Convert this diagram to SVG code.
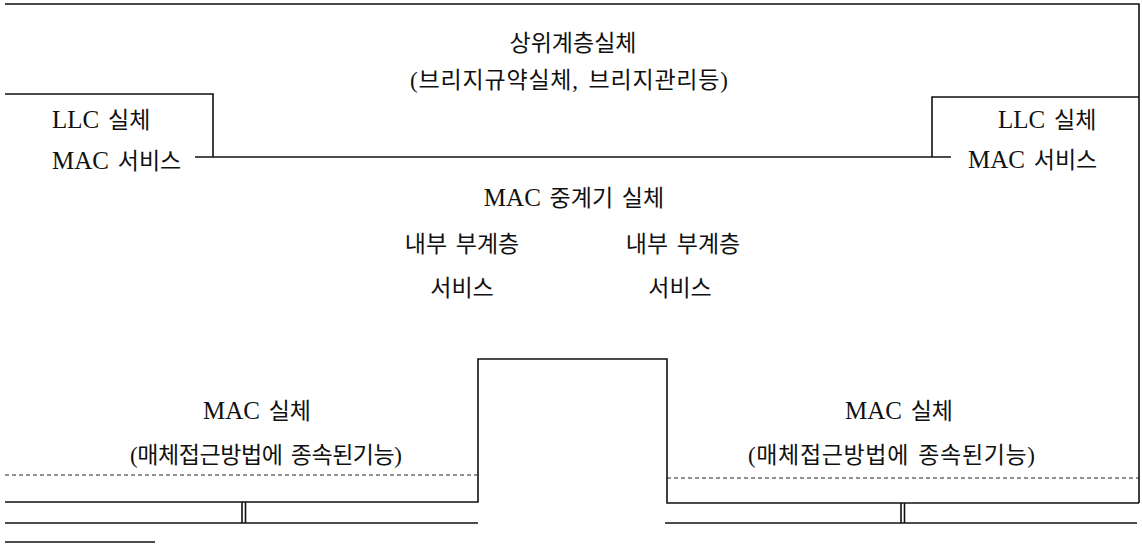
<svg xmlns="http://www.w3.org/2000/svg" width="1142" height="545" viewBox="0 0 1142 545">
<style>
.ln{fill:none;stroke:#111;stroke-width:1.6}
.dash{fill:none;stroke:#222;stroke-width:1;stroke-dasharray:4 3}
.t{font-family:"Liberation Serif","Noto Sans CJK KR",serif;font-size:23px;fill:#111;word-spacing:3px}
.l{font-size:25px}
.c{text-anchor:middle}
</style>
<rect width="1142" height="545" fill="#fff"/>
<g id="frame">
<path class="ln" d="M5,4 H1139 V503"/>
<path class="ln" d="M5,94 H213 V157"/>
<path class="ln" d="M195,157 H951"/>
<path class="ln" d="M932,157 V97 H1139"/>
<path class="ln" d="M5,502 H478 V359 H667 V503 H1139"/>
<path class="dash" d="M5,475 H478"/>
<path class="dash" d="M667,478 H1139"/>
<path class="ln" d="M5,523 H478"/>
<path class="ln" d="M665,523 H1137"/>
<path class="ln" d="M5,542 H155"/>
</g>
<g id="connectors">
<path class="ln" d="M242,502 V523 M245.5,502 V523"/>
<path class="ln" d="M901,503 V523 M904.5,503 V523"/>
</g>
<g id="upper-entity">
<text class="t c" x="573" y="51">상위계층실체</text>
<text class="t c" x="569" y="88" textLength="318">(브리지규약실체, 브리지관리등)</text>
</g>
<g id="llc-left">
<text class="t" x="52" y="128"><tspan class="l">LLC</tspan> 실체</text>
<text class="t" x="52" y="169"><tspan class="l">MAC</tspan> 서비스</text>
</g>
<g id="llc-right">
<text class="t" x="998" y="128"><tspan class="l">LLC</tspan> 실체</text>
<text class="t" x="968" y="168"><tspan class="l">MAC</tspan> 서비스</text>
</g>
<g id="mac-relay">
<text class="t c" x="574" y="206"><tspan class="l">MAC</tspan> 중계기 실체</text>
<text class="t c" x="462" y="252">내부 부계층</text>
<text class="t c" x="683" y="252">내부 부계층</text>
<text class="t c" x="462" y="296">서비스</text>
<text class="t c" x="680" y="296">서비스</text>
</g>
<g id="mac-left">
<text class="t c" x="257" y="419"><tspan class="l">MAC</tspan> 실체</text>
<text class="t" x="130" y="463" textLength="272">(매체접근방법에 종속된기능)</text>
</g>
<g id="mac-right">
<text class="t c" x="899" y="419"><tspan class="l">MAC</tspan> 실체</text>
<text class="t" x="748" y="463" textLength="287">(매체접근방법에 종속된기능)</text>
</g>
</svg>
